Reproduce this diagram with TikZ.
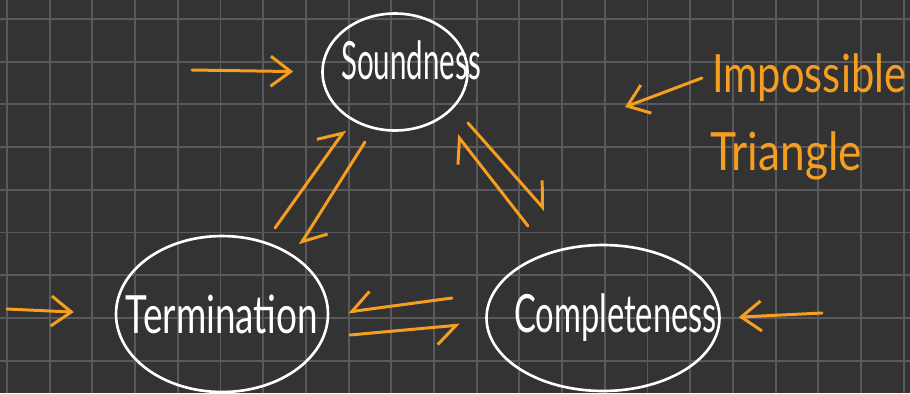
\documentclass[tikz,border=0pt]{standalone}
\usepackage{fontspec}
\setmainfont{Lato}
\usepackage{tikz}
\usetikzlibrary{shapes.geometric, arrows.meta, calc}
\definecolor{boardcolor}{RGB}{51, 51, 51}
\definecolor{gridcolor}{RGB}{88, 88, 93}
\definecolor{penorange}{RGB}{245, 158, 32}
\newcommand{\hand}[2][0.62]{\scalebox{#1}[1]{\fontsize{30}{30}\selectfont #2}}
\tikzstyle{gridline} = [gridcolor, line width=1.1pt]
\tikzstyle{bubble} = [ellipse, draw=white, line width=1.5pt, inner xsep=-1.2cm, inner ysep=-0.4cm, text=white]
\tikzstyle{note} = [anchor=west, inner sep=0pt, text=penorange]
\tikzstyle{arrow} = [penorange, line width=1.7pt, line cap=round, -{Straight Barb[length=0.4cm, width=0.6cm]}]
\tikzstyle{half} = [penorange, line width=1.7pt, line cap=round, -{Straight Barb[harpoon, length=0.4cm, width=0.7cm]}]
\tikzstyle{halfswap} = [penorange, line width=1.7pt, line cap=round, -{Straight Barb[harpoon, swap, length=0.4cm, width=0.7cm]}]

\begin{document}
\begin{tikzpicture}[x=0.02cm, y=-0.02cm]
    % Board
    \fill[boardcolor] (0,0) rectangle (910,393);
    \useasboundingbox (0,0) rectangle (910,393);
    \foreach \i in {0,...,21} \draw[gridline] ({7+42.7*\i},0) -- ({7+42.7*\i},393);
    \foreach \j in {0,...,8} \draw[gridline] (0,{19+42.7*\j}) -- (910,{19+42.7*\j});

    % Three properties
    \node[bubble, minimum width=2.9cm, minimum height=2.34cm] (sound) at (395,72) {\hspace{0.64cm}\raisebox{0.48cm}{\hand[0.56]{Soundness}}};
    \node[bubble, minimum width=4.24cm, minimum height=3.12cm] (term) at (222,314) {\hand[0.7]{Termination}};
    \node[bubble, minimum width=4.66cm, minimum height=2.92cm] (comp) at (603,318) {\hspace{0.5cm}\hand[0.62]{Completeness}};

    % Label
    \node[note] (imp) at (712,78) {\hand[0.79]{Impossible}};
    \node[note] (tri) at (710,156) {\hand[0.84]{Triangle}};

    % Arrow ends
    \coordinate (inS) at (192,70);
    \coordinate (inT) at (7,309);
    \coordinate (inC) at (822,313);
    \coordinate (impTip) at (625,107);
    \coordinate (tsA) at (275,228);
    \coordinate (tsB) at (345,130);
    \coordinate (stA) at (365,142);
    \coordinate (stB) at (300,245);
    \coordinate (csA) at (528,226);
    \coordinate (csB) at (457,135);
    \coordinate (scA) at (468,123);
    \coordinate (scB) at (545,210);
    \coordinate (ctA) at (452,298);
    \coordinate (ctB) at (348,312);
    \coordinate (tcA) at (350,335);
    \coordinate (tcB) at (460,325);

    % Arrows - outside
    \draw[arrow, shorten >=0.56cm] (inS) -- (sound.west);
    \draw[arrow, shorten >=0.82cm] (inT) -- (term.west);
    \draw[arrow, shorten >=0.36cm] (inC) -- (comp.east);
    \draw[arrow] ([xshift=-0.2cm]imp.west) -- (impTip);

    % Arrows - triangle
    \draw[half] (tsA) -- (tsB);
    \draw[half] (stA) -- (stB);
    \draw[half] (csA) -- (csB);
    \draw[half] (scA) -- (scB);
    \draw[halfswap] (ctA) -- (ctB);
    \draw[halfswap] (tcA) -- (tcB);
\end{tikzpicture}
\end{document}
